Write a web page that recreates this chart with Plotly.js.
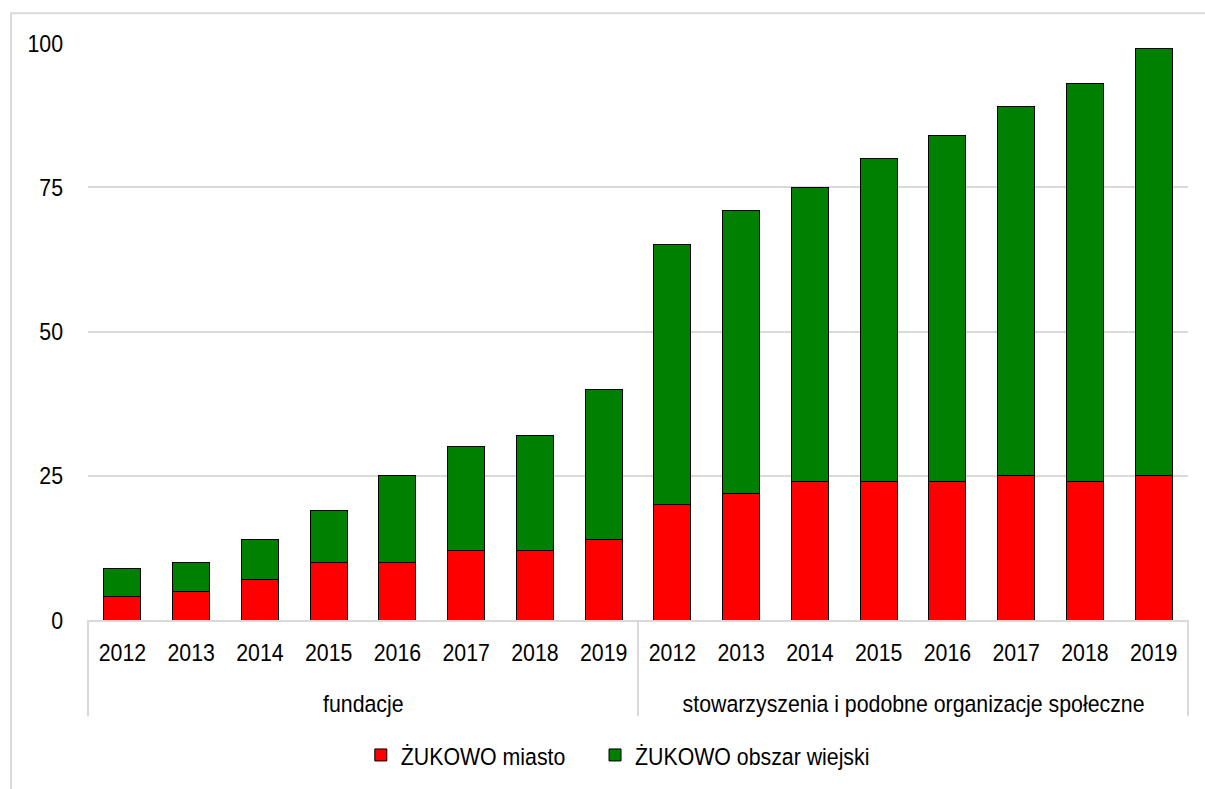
<!DOCTYPE html>
<html>
<head>
<meta charset="utf-8">
<script src="https://cdn.plot.ly/plotly-3.0.1.min.js"></script>
<style>html,body{margin:0;padding:0;background:#fff;}#chart{width:1205px;height:789px;}</style>
</head>
<body>
<div id="chart"></div>
<script>
const groups = ['fundacje', 'stowarzyszenia i podobne organizacje społeczne'];
const years = ['2012', '2013', '2014', '2015', '2016', '2017', '2018', '2019'];
const seriesNames = ['ŻUKOWO miasto', 'ŻUKOWO obszar wiejski'];
const miasto = [4, 5, 7, 10, 10, 12, 12, 14, 20, 22, 24, 24, 24, 25, 24, 25];
const wiejski = [5, 5, 7, 9, 15, 18, 20, 26, 45, 49, 51, 56, 60, 64, 69, 74];
const colors = ['#ff0000', '#008000'];

const cats = [], catText = [];
groups.forEach(g => years.forEach(y => { cats.push(g + ' ' + y); catText.push(y); }));

const FONT = 'Liberation Sans, Arial, sans-serif';
const FS = 24.5;
const GRID = '#d9d9d9';

const traces = [miasto, wiejski].map((vals, i) => ({
  type: 'bar',
  name: seriesNames[i],
  x: cats,
  y: vals,
  marker: {color: colors[i], line: {color: '#000000', width: 1}},
  hoverinfo: 'y'
}));

// y of divider bottom and group label row (paper coords)
const divBottom = -0.167;
const groupLabelY = -0.145;
const n = groups.length;

const shapes = [{
  type: 'rect', xref: 'paper', yref: 'paper',
  x0: -0.07, x1: 1.2, y0: -0.5, y1: 1.0517,
  line: {color: GRID, width: 2}, layer: 'below'
}];
for (let i = 0; i <= n; i++) {
  shapes.push({type: 'line', xref: 'paper', yref: 'paper', x0: i / n, x1: i / n, y0: 0, y1: divBottom,
    line: {color: GRID, width: 2}});
}
const annotations = groups.map((g, i) => ({
  xref: 'paper', yref: 'paper', x: (i + 0.5) / n, y: groupLabelY,
  xanchor: 'center', yanchor: 'middle', showarrow: false, text: g,
  font: {family: FONT, size: FS, color: '#000000'}
}));

const layout = {
  width: 1205, height: 789,
  margin: {l: 88, r: 17, t: 43, b: 166},
  barmode: 'stack',
  bargap: 0.46,
  paper_bgcolor: '#ffffff',
  plot_bgcolor: '#ffffff',
  font: {family: FONT, size: FS, color: '#000000'},
  xaxis: {
    type: 'category',
    tickvals: cats, ticktext: catText,
    showline: true, linecolor: GRID, linewidth: 2,
    showgrid: false, ticks: '', ticklabelstandoff: 10,
    tickfont: {family: FONT, size: FS, color: '#000000'}
  },
  yaxis: {
    range: [0, 100], tickvals: [0, 25, 50, 75, 100],
    showgrid: true, gridcolor: GRID, gridwidth: 2,
    zeroline: false, showline: false,
    ticks: '', ticklabelstandoff: 24,
    tickfont: {family: FONT, size: FS, color: '#000000'}
  },
  legend: {
    orientation: 'h', x: 0.248, xanchor: 'left', y: -0.234, yanchor: 'middle',
    font: {family: FONT, size: FS, color: '#000000'},
    traceorder: 'normal'
  },
  shapes: shapes,
  annotations: annotations,
  showlegend: true
};

Plotly.newPlot('chart', traces, layout, {displayModeBar: false, staticPlot: true}).then(gd => {
  // condense text horizontally (Arial Narrow look), scaling about each text's anchor x
  const SX = 0.87;
  gd.querySelectorAll('svg text').forEach(t => {
    const x = parseFloat(t.getAttribute('x') || '0') || 0;
    const tr = t.getAttribute('transform') || '';
    t.setAttribute('transform', (tr + ` translate(${x},0) scale(${SX},1) translate(${-x},0)`).trim());
  });
});
</script>
</body>
</html>
